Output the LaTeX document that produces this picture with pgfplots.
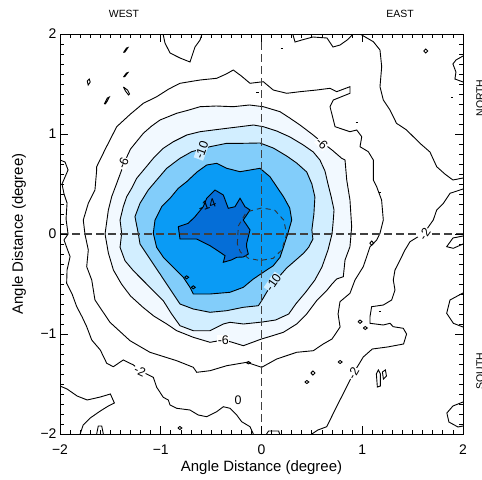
\documentclass[border=0pt]{standalone}
\usepackage{pgfplots}
\pgfplotsset{compat=1.18}
\usepackage{fontspec}
\setmainfont{Liberation Sans}
\definecolor{cdark}{RGB}{5,110,215}
\definecolor{cblue}{RGB}{10,155,245}
\definecolor{cmed}{RGB}{130,205,250}
\definecolor{clight}{RGB}{210,238,255}
\definecolor{cpale}{RGB}{242,249,255}
\begin{document}
\begin{tikzpicture}[x=1bp,y=1bp]
\path[use as bounding box] (-60bp,-46bp) rectangle (422bp,434bp);
\begin{axis}[at={(0,0)}, anchor=south west, scale only axis,
  width=403bp, height=400bp,
  xmin=-2, xmax=2, ymin=-2, ymax=2,
  xtick={-2,-1,0,1,2}, ytick={-2,-1,0,1,2},
  xticklabels={−2,−1,0,1,2}, yticklabels={−2,−1,0,1,2},
  minor tick num=9,
  major tick length=8bp, minor tick length=4bp,
  tick style={black, line width=0.8bp},
  axis line style={line width=0.9bp},
  tick label style={font=\fontsize{14}{16}\selectfont},
  xticklabel style={yshift=-7bp},
  axis on top,
  clip=true,
  every axis plot/.append style={line width=0.9bp},
]
% -6 contour (pale fill)
\addplot[draw=black, fill=cpale] coordinates {
(-1.553,0) (-1.52,0.24) (-1.487,0.373) (-1.437,0.507) (-1.388,0.64) (-1.36,0.72) (-1.30,0.85) (-1.173,1.007) (-1.09,1.08) (-1.007,1.14) (-0.842,1.207) (-0.72,1.24) (-0.61,1.273) (-0.45,1.28) (-0.28,1.273) (-0.12,1.29) (0.018,1.273) (0.184,1.223) (0.28,1.16) (0.382,1.09) (0.5,1.0) (0.614,0.907) (0.70,0.84) (0.796,0.757) (0.829,0.74) (0.846,0.54) (0.878,0.34) (0.895,0.073) (0.878,-0.127) (0.829,-0.26) (0.812,-0.427) (0.746,-0.45) (0.70,-0.5) (0.646,-0.567) (0.547,-0.667) (0.448,-0.8) (0.349,-0.9) (0.217,-0.983) (0.1,-1.02) (0,-1.05) (-0.18,-1.117) (-0.30,-1.08) (-0.379,-1.06) (-0.511,-1.083) (-0.677,-1.033) (-0.842,-0.967) (-0.94,-0.9) (-1.07,-0.82) (-1.18,-0.73) (-1.3,-0.62) (-1.39,-0.5) (-1.47,-0.36) (-1.52,-0.19) (-1.553,0)};
% -8 contour (light fill)
\addplot[draw=black, fill=clight] coordinates {
(-1.388,0.007) (-1.404,0.14) (-1.372,0.273) (-1.338,0.373) (-1.289,0.457) (-1.239,0.557) (-1.156,0.657) (-1.074,0.757) (-0.975,0.857) (-0.875,0.923) (-0.742,0.99) (-0.61,1.023) (-0.478,1.04) (-0.345,1.057) (-0.213,1.073) (-0.081,1.09) (0.018,1.073) (0.151,1.03) (0.283,0.97) (0.415,0.89) (0.514,0.82) (0.58,0.74) (0.63,0.63) (0.66,0.5) (0.69,0.38) (0.72,0.24) (0.71,0.107) (0.70,0) (0.66,-0.16) (0.60,-0.33) (0.53,-0.46) (0.44,-0.58) (0.34,-0.70) (0.27,-0.80) (0.14,-0.86) (0.01,-0.88) (-0.18,-0.9) (-0.313,-0.883) (-0.379,-0.9) (-0.511,-0.967) (-0.677,-0.967) (-0.809,-0.917) (-0.892,-0.8) (-0.975,-0.667) (-1.074,-0.567) (-1.173,-0.467) (-1.272,-0.367) (-1.355,-0.267) (-1.404,-0.133) (-1.388,0.007)};
% -10 contour (medium fill)
\addplot[draw=black, fill=cmed] coordinates {
(-1.222,0) (-1.256,0.173) (-1.206,0.307) (-1.124,0.44) (-1.04,0.54) (-0.941,0.657) (-0.809,0.757) (-0.693,0.823) (-0.511,0.873) (-0.345,0.907) (-0.181,0.907) (-0.015,0.91) (0.117,0.86) (0.25,0.78) (0.349,0.71) (0.449,0.62) (0.50,0.50) (0.53,0.37) (0.52,0.2) (0.50,0.04) (0.51,-0.05) (0.47,-0.13) (0.42,-0.19) (0.33,-0.27) (0.25,-0.34) (0.18,-0.42) (0.117,-0.483) (0.051,-0.583) (0.002,-0.667) (-0.031,-0.717) (-0.18,-0.733) (-0.346,-0.767) (-0.511,-0.783) (-0.677,-0.75) (-0.809,-0.7) (-0.875,-0.6) (-0.941,-0.5) (-1.007,-0.4) (-1.074,-0.3) (-1.14,-0.2) (-1.206,-0.1) (-1.222,0)};
% -12 contour (blue fill)
\addplot[draw=black, fill=cblue] coordinates {
(-1.074,0.007) (-1.057,0.14) (-0.991,0.273) (-0.908,0.357) (-0.826,0.457) (-0.743,0.523) (-0.64,0.62) (-0.544,0.69) (-0.445,0.707) (-0.345,0.657) (-0.213,0.623) (-0.114,0.64) (-0.015,0.657) (0.084,0.573) (0.151,0.473) (0.22,0.37) (0.28,0.26) (0.30,0.14) (0.26,0.0) (0.217,-0.133) (0.184,-0.233) (0.117,-0.317) (0.018,-0.383) (-0.081,-0.45) (-0.18,-0.533) (-0.313,-0.583) (-0.511,-0.6) (-0.677,-0.6) (-0.71,-0.533) (-0.776,-0.433) (-0.875,-0.333) (-0.974,-0.233) (-1.041,-0.133) (-1.074,0.007)};
% -14 contour (dark fill)
\addplot[draw=black, fill=cdark] coordinates {
(-0.826,0.073) (-0.727,0.107) (-0.66,0.173) (-0.578,0.273) (-0.544,0.357) (-0.462,0.44) (-0.379,0.39) (-0.33,0.257) (-0.263,0.273) (-0.213,0.357) (-0.164,0.273) (-0.114,0.24) (-0.181,0.14) (-0.114,0.04) (-0.147,-0.093) (-0.147,-0.133) (-0.131,-0.2) (-0.18,-0.23) (-0.246,-0.233) (-0.3,-0.26) (-0.379,-0.283) (-0.362,-0.217) (-0.43,-0.17) (-0.511,-0.117) (-0.643,-0.05) (-0.809,-0.05) (-0.826,0.073)};
% tiny loops in blue region
\addplot[draw=black] coordinates {(-0.763,-0.433) (-0.743,-0.418) (-0.723,-0.433) (-0.743,-0.448) (-0.763,-0.433)};
\addplot[draw=black] coordinates {(-0.697,-0.533) (-0.677,-0.518) (-0.657,-0.533) (-0.677,-0.548) (-0.697,-0.533)};
% -4 contour
\addplot[draw=black] coordinates {
(-1.636,0.673) (-1.55,0.85) (-1.437,1.073) (-1.3,1.2) (-1.173,1.307) (-1.040,1.373) (-0.92,1.45) (-0.809,1.507) (-0.610,1.54) (-0.445,1.557) (-0.35,1.60) (-0.280,1.64) (-0.2,1.58) (-0.114,1.507) (0.018,1.523) (0.117,1.44) (0.25,1.407) (0.382,1.423) (0.548,1.44) (0.680,1.457) (0.746,1.423) (0.878,1.473) (0.878,1.407) (0.713,1.34) (0.680,1.273) (0.73,1.073) (0.878,1.023) (0.945,1.04) (0.995,0.973) (0.978,0.873) (1.060,0.823) (1.11,0.74) (1.11,0.54) (1.143,0.473) (1.192,0.34) (1.209,0.14) (1.176,0.007) (1.143,-0.06) (1.077,-0.127) (1.044,-0.227) (1.01,-0.327) (0.928,-0.46) (0.878,-0.593) (0.779,-0.677) (0.76,-0.8) (0.78,-0.93) (0.70,-1.05) (0.613,-1.1) (0.514,-1.167) (0.349,-1.183) (0.151,-1.25) (0.002,-1.333) (-0.147,-1.283) (-0.345,-1.317) (-0.511,-1.367) (-0.643,-1.383) (-0.677,-1.333) (-0.842,-1.267) (-1.107,-1.183) (-1.305,-1.067) (-1.504,-0.883) (-1.653,-0.66) (-1.685,-0.46) (-1.735,-0.327) (-1.719,-0.16) (-1.752,-0.003) (-1.769,0.14) (-1.719,0.307) (-1.653,0.44) (-1.636,0.64) (-1.636,0.673)};
% -2 contour, left and bottom
\addplot[draw=black] coordinates {
(-2.0,0.74) (-1.95,0.72) (-1.92,0.64) (-1.95,0.57) (-1.98,0.5) (-1.96,0.4) (-1.93,0.31) (-1.94,0.15) (-1.92,0.0) (-1.96,-0.06) (-1.9,-0.227) (-1.93,-0.36) (-1.934,-0.493) (-1.88,-0.6) (-1.834,-0.727) (-1.78,-0.83) (-1.735,-0.927) (-1.685,-1.06) (-1.6,-1.16) (-1.536,-1.293) (-1.471,-1.327) (-1.372,-1.26) (-1.27,-1.31) (-1.206,-1.367) (-1.074,-1.433) (-1.04,-1.533) (-0.975,-1.633) (-0.925,-1.66) (-0.908,-1.71) (-0.842,-1.743) (-0.71,-1.76) (-0.628,-1.81) (-0.544,-1.827) (-0.445,-1.777) (-0.379,-1.727) (-0.313,-1.743) (-0.246,-1.81) (-0.197,-1.877) (-0.114,-1.927) (-0.081,-2.0)};
% -2 contour, upper right
\addplot[draw=black] coordinates {
(0.978,2.0) (1.11,1.923) (1.176,1.84) (1.193,1.673) (1.176,1.473) (1.209,1.34) (1.275,1.24) (1.34,1.107) (1.44,1.04) (1.573,0.907) (1.672,0.82) (1.739,0.673) (1.82,0.6) (1.9,0.54) (2.0,0.56)};
% -2 contour, lower right
\addplot[draw=black] coordinates {
(2.0,0.45) (1.871,0.407) (1.805,0.307) (1.739,0.24) (1.705,0.14) (1.623,0.023) (1.55,-0.03) (1.474,-0.077) (1.424,-0.16) (1.375,-0.26) (1.325,-0.36) (1.308,-0.46) (1.325,-0.56) (1.292,-0.66) (1.209,-0.71) (1.093,-0.727) (1.077,-0.827) (1.077,-0.893) (1.209,-0.91) (1.275,-0.893) (1.308,-0.927) (1.407,-0.943) (1.44,-1.0) (1.41,-1.1) (1.25,-1.13) (1.1,-1.15) (1.01,-1.23) (0.95,-1.33) (0.911,-1.393) (0.846,-1.527) (0.779,-1.66) (0.713,-1.793) (0.647,-1.927) (0.56,-1.96) (0.5,-2.0)};
% lines along the top edge
\addplot[draw=black] coordinates {(0.31,2.0) (0.333,1.92) (0.40,1.94) (0.51,1.97) (0.65,1.96) (0.71,1.87) (0.78,1.89) (0.85,1.94) (0.91,2.0)};
\addplot[draw=black] coordinates {(-0.977,2.0) (-0.958,1.91) (-0.908,1.81) (-0.809,1.76) (-0.71,1.72) (-0.68,1.81) (-0.66,1.87) (-0.61,1.94) (-0.59,2.0)};
% right edge wiggles
\addplot[draw=black] coordinates {(2.0,1.78) (1.93,1.74) (1.90,1.70) (1.93,1.62) (1.92,1.55) (2.0,1.52)};
\addplot[draw=black] coordinates {(2.0,-0.02) (1.9,-0.04) (1.838,-0.127) (1.904,-0.143) (2.0,-0.1)};
\addplot[draw=black] coordinates {(2.0,-0.59) (1.871,-0.66) (1.838,-0.793) (1.904,-0.893) (2.0,-0.93)};
\addplot[draw=black] coordinates {(2.0,-1.68) (1.9,-1.72) (1.84,-1.79) (1.86,-1.88) (1.95,-1.93) (2.0,-1.92)};
% lower left lines
\addplot[draw=black] coordinates {(-2,-1.52) (-1.93,-1.55) (-1.83,-1.62) (-1.73,-1.66) (-1.6,-1.63) (-1.5,-1.6) (-1.46,-1.69) (-1.52,-1.72) (-1.6,-1.77) (-1.7,-1.84) (-1.77,-1.91) (-1.8,-2.0)};
\addplot[draw=black] coordinates {(-1.636,-2.0) (-1.62,-1.92) (-1.586,-1.92) (-1.57,-2.0)};
\addplot[draw=black] coordinates {(0.05,-2.0) (0.07,-1.97) (0.17,-1.97) (0.18,-2.0)};
% small closed loops
\addplot[draw=black] coordinates {(-1.37,1.815) (-1.34,1.86) (-1.325,1.865) (-1.355,1.82) (-1.37,1.815)};
\addplot[draw=black] coordinates {(-1.37,1.57) (-1.34,1.61) (-1.325,1.615) (-1.355,1.575) (-1.37,1.57)};
\addplot[draw=black] coordinates {(-1.73,1.53) (-1.71,1.55) (-1.70,1.52) (-1.72,1.49) (-1.73,1.53)};
\addplot[draw=black] coordinates {(-1.37,1.47) (-1.33,1.44) (-1.31,1.40) (-1.32,1.39) (-1.35,1.43) (-1.37,1.47)};
\addplot[draw=black] coordinates {(-1.56,1.30) (-1.53,1.36) (-1.51,1.37) (-1.53,1.33) (-1.55,1.30) (-1.56,1.30)};
\addplot[draw=black] coordinates {(1.61,1.83) (1.63,1.85) (1.65,1.83) (1.63,1.81) (1.61,1.83)};
\addplot[draw=black] coordinates {(0.19,1.86) (0.21,1.86)};
\addplot[draw=black] coordinates {(-0.05,1.42) (-0.02,1.42)};
\addplot[draw=black] coordinates {(0.935,1.12) (0.955,1.12)};
\addplot[draw=black] coordinates {(1.166,0.42) (1.186,0.42)};
\addplot[draw=black] coordinates {(1.88,1.37) (1.90,1.37)};
\addplot[draw=black] coordinates {(1.166,-0.777) (1.186,-0.777)};
\addplot[draw=black] coordinates {(1.074,-0.093) (1.094,-0.07) (1.114,-0.093) (1.094,-0.113) (1.074,-0.093)};
\addplot[draw=black] coordinates {(0.49,-1.39) (0.51,-1.37) (0.53,-1.39) (0.51,-1.41) (0.49,-1.39)};
\addplot[draw=black] coordinates {(0.43,-1.48) (0.45,-1.465) (0.47,-1.48) (0.45,-1.495) (0.43,-1.48)};
\addplot[draw=black] coordinates {(0.76,-1.28) (0.78,-1.265) (0.80,-1.28) (0.78,-1.295) (0.76,-1.28)};
\addplot[draw=black] coordinates {(0.958,-0.877) (0.978,-0.86) (0.998,-0.877) (0.978,-0.894) (0.958,-0.877)};
\addplot[draw=black] coordinates {(1.01,-0.94) (1.03,-0.925) (1.05,-0.94) (1.03,-0.955) (1.01,-0.94)};
\addplot[draw=black] coordinates {(1.14,-1.40) (1.16,-1.36) (1.18,-1.40) (1.18,-1.52) (1.15,-1.53) (1.14,-1.40)};
\addplot[draw=black] coordinates {(1.20,-1.38) (1.23,-1.36) (1.24,-1.42) (1.21,-1.45) (1.20,-1.38)};
\addplot[draw=black] coordinates {(-0.15,-1.287) (-0.13,-1.275) (-0.11,-1.287) (-0.13,-1.299) (-0.15,-1.287)};
\addplot[draw=black] coordinates {(-0.83,-1.94) (-0.81,-1.925) (-0.79,-1.94) (-0.81,-1.955) (-0.83,-1.94)};
% dashed reference lines
\addplot[draw=black!75, line width=1.6bp, dash pattern=on 8bp off 4bp] coordinates {(0,-2) (0,2)};
\addplot[draw=black!75, line width=1.3bp, dash pattern=on 8bp off 4bp] coordinates {(-2,0) (2,0)};
% dashed inner contour
\addplot[draw=black!80, line width=0.9bp, dash pattern=on 5bp off 4bp] coordinates {
(-0.24,-0.1) (-0.23,0.08) (-0.15,0.22) (0.0,0.26) (0.13,0.24) (0.22,0.14) (0.25,0.0) (0.2,-0.16) (0.117,-0.243) (-0.015,-0.265) (-0.13,-0.243) (-0.21,-0.18) (-0.24,-0.1)};
% contour labels
\begin{scope}[every node/.style={font=\fontsize{12.5}{13}\selectfont, inner sep=0.6bp}]
\node[rotate=20] at (axis cs:-0.54,0.29) {-14};
\node[rotate=70, fill=clight] at (axis cs:-0.594,0.84) {-10};
\node[rotate=55, fill=clight] at (axis cs:0.117,-0.483) {-10};
\node[rotate=65, fill=white] at (axis cs:-1.375,0.71) {-6};
\node[rotate=-45, fill=white] at (axis cs:0.6,0.907) {-6};
\node[rotate=0, fill=white] at (axis cs:-0.379,-1.06) {-6};
\node[rotate=-25, fill=white] at (axis cs:-1.206,-1.367) {-2};
\node[rotate=60, fill=white] at (axis cs:0.911,-1.393) {-2};
\node[rotate=55, fill=white] at (axis cs:1.62,0.0) {-2};
\node[fill=white] at (axis cs:-0.233,-1.66) {0};
\end{scope}
\end{axis}
\node[font=\fontsize{15}{17}\selectfont] at (201.5bp,-34bp) {Angle Distance (degree)};
\node[font=\fontsize{15}{17}\selectfont, rotate=90] at (-41bp,200bp) {Angle Distance (degree)};
\node[font=\fontsize{10.5}{12}\selectfont] at (64bp,420bp) {WEST};
\node[font=\fontsize{10.5}{12}\selectfont] at (340bp,420bp) {EAST};
\node[font=\fontsize{10.5}{12}\selectfont, rotate=90] at (420bp,336bp) {NORTH};
\node[font=\fontsize{10.5}{12}\selectfont, rotate=90] at (420bp,63bp) {SOUTH};
\end{tikzpicture}
\end{document}
